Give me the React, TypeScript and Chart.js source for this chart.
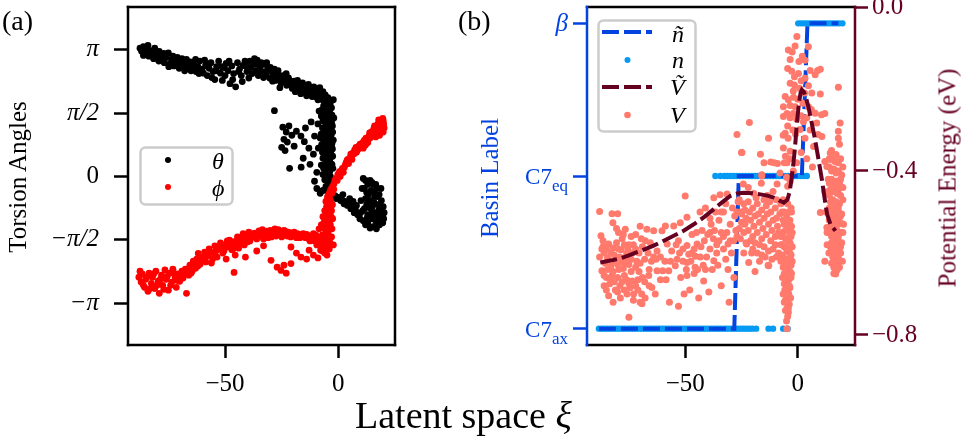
import { useEffect, useRef } from "react";
import { Chart, registerables } from "chart.js";

Chart.register(...registerables);

const SERIF = '"Liberation Serif", "Times New Roman", serif';
Chart.defaults.font.family = SERIF;

const BLUE = "#0343DF";
const AZURE = "#069AF3";
const MAROON = "#650021";
const SALMON = "#FF796C";

// ---- panel (a): torsion angles against the latent coordinate xi ----
const thetaPoints: [number, number][] = [
  [-87.5, 3.18], [-86.8, 3.1], [-86, 3.22], [-85.2, 3.05], [-84.5, 3.15], [-83.6, 2.98], [-83, 3.12], [-82.2, 3.04],
  [-81.5, 2.92], [-80.8, 3.08], [-80, 2.96], [-79.2, 2.86], [-78.5, 3.0], [-77.6, 2.9], [-76.8, 2.82], [-76, 2.95],
  [-75, 3.06], [-74.2, 2.8], [-73.5, 2.9], [-72.6, 2.74], [-71.8, 2.86], [-71, 2.78], [-70.2, 2.68], [-69.4, 2.82],
  [-68.6, 2.74], [-67.8, 2.62], [-67, 2.78], [-66.1, 2.7], [-65.3, 2.84], [-64.5, 2.66], [-63.6, 2.76], [-62.8, 2.6],
  [-62, 2.72], [-61.1, 2.86], [-60.3, 2.66], [-59.5, 2.56], [-58.6, 2.74], [-57.8, 2.5], [-57, 2.68], [-56.2, 2.82],
  [-55.3, 2.6], [-54.5, 2.4], [-53.7, 2.72], [-52.8, 2.86], [-52, 2.56], [-51.2, 2.38], [-50.4, 2.7], [-49.5, 2.8],
  [-48.7, 2.62], [-47.8, 2.3], [-47, 2.74], [-46.2, 2.55], [-45.3, 2.22], [-44.5, 2.82], [-43.6, 2.66], [-42.8, 2.5],
  [-42, 2.75], [-41.2, 2.86], [-40.3, 2.6], [-39.5, 2.44], [-38.6, 2.7], [-37.8, 2.8], [-37, 2.92], [-36.2, 2.62],
  [-35.3, 2.5], [-34.5, 2.72], [-33.6, 2.6], [-32.8, 2.78], [-32, 2.52], [-31.2, 2.66], [-30.3, 2.44], [-29.5, 2.6],
  [-28.6, 2.5], [-27.8, 2.38], [-27, 2.56], [-26.2, 2.44], [-25.3, 2.32], [-24.5, 2.5], [-23.6, 2.36], [-22.8, 2.26],
  [-22, 2.44], [-21.2, 2.3], [-20.3, 2.18], [-19.5, 2.36], [-18.6, 2.24], [-17.8, 2.14], [-17, 2.3], [-16.2, 2.16],
  [-15.3, 2.08], [-14.5, 2.24], [-13.6, 2.12], [-12.8, 2.04], [-12, 2.2], [-11.2, 2.1], [-10.3, 1.98], [-9.5, 2.14],
  [-8.6, 2.06], [-7.8, 1.96],
  [-86, 3.0], [-84, 3.25], [-81, 3.18], [-79, 3.1], [-77, 3.05], [-74.8, 2.72], [-73, 2.98], [-71, 2.95], [-69, 2.92],
  [-67, 2.9], [-65, 2.62], [-63, 2.9], [-61.5, 2.55], [-59, 2.88], [-57.5, 2.78], [-55.8, 2.45], [-54, 2.62],
  [-51.5, 2.72], [-50, 2.5], [-48.2, 2.86], [-46.6, 2.4], [-44, 2.6], [-42.4, 2.35], [-40.8, 2.74], [-39, 2.86],
  [-38, 2.55], [-36.6, 2.78], [-35.8, 2.88], [-34, 2.82], [-33, 2.45], [-31.6, 2.82], [-30, 2.7], [-29, 2.36],
  [-28.2, 2.66], [-26.6, 2.62], [-25.8, 2.2], [-24, 2.42], [-23, 2.55], [-21.6, 2.38], [-20, 2.3], [-19, 2.1],
  [-18, 2.38], [-16.6, 2.05], [-15.8, 2.32], [-14, 2.0], [-13.2, 2.28], [-11.6, 1.98], [-10.8, 2.22], [-9, 1.9],
  [-8.2, 2.2], [-6.8, 2.1], [-5.8, 2.02], [-4.6, 1.95],
  [-7, 1.9], [-5.5, 1.95], [-4, 1.85], [-3, 1.7], [-6.5, 1.75], [-5, 1.62], [-3.5, 1.55], [-7.5, 1.5], [-6, 1.45],
  [-4.5, 1.4], [-3, 1.35], [-5.5, 1.28], [-7, 1.2], [-4, 1.18], [-2.5, 1.1], [-6, 1.05], [-5, 0.98], [-3.5, 0.92],
  [-8, 0.95], [-6.5, 0.85], [-4.5, 0.8], [-3, 0.74], [-5.5, 0.68], [-7, 0.6], [-4, 0.56], [-2.5, 0.5], [-6, 0.45],
  [-5, 0.38], [-3.5, 0.32], [-7.5, 0.28], [-6.5, 0.2], [-4.5, 0.15], [-5.5, 0.05], [-3.5, 0.0], [-6, -0.08],
  [-4.5, -0.15], [-5.5, -0.25], [-3.8, -0.3], [-8.5, 1.62], [-9, 1.3], [-8.8, 0.7], [-9.5, 0.1], [-10.5, -0.12],
  [-9.5, -0.3], [-8, -0.42], [-6.8, -0.35], [-2.2, 1.9], [-2, 1.45], [-2.2, 0.9], [-2.4, 0.2],
  [-6.2, 1.88], [-4.8, 1.78], [-3.6, 1.8], [-7.2, 1.65], [-5.8, 1.58], [-4.2, 1.5], [-2.8, 1.52], [-6.8, 1.38],
  [-5.2, 1.35], [-3.8, 1.28], [-2.6, 1.25], [-7.6, 1.05], [-6.2, 1.15], [-4.8, 1.1], [-3.2, 1.02], [-5.8, 0.9],
  [-4.2, 0.88], [-2.8, 0.82], [-7.4, 0.78], [-6.2, 0.7], [-4.8, 0.62], [-3.4, 0.6], [-2.6, 0.68], [-5.2, 0.52],
  [-6.8, 0.45], [-3.8, 0.42], [-4.8, 0.28], [-6, 0.3], [-2.8, 0.3], [-5.2, 0.18], [-3.8, 0.12], [-6.8, 0.05],
  [-4.5, -0.05], [-2.8, -0.12], [-5, -0.35], [-3.2, -0.22],
  [-28.2, 1.63], [-21.5, 0.2], [-16.4, 0.23], [-24.5, 1.22], [-23, 1.1], [-21.8, 1.25], [-20.5, 1.02], [-24, 0.92],
  [-22.5, 0.85], [-19.5, 0.75], [-25, 0.72], [-23.5, 0.64], [-18.5, 1.12], [-16.5, 1.0], [-15, 0.86], [-14.5, 1.2],
  [-13, 0.7], [-12, 1.35], [-11, 0.55], [-15.5, 0.45], [-12.5, 0.3], [-10.5, 1.0],
  [-3, -0.4], [-1.5, -0.48], [0, -0.52], [1.5, -0.58], [3, -0.62], [4.5, -0.66], [6, -0.74], [7.5, -0.82], [2, -0.45],
  [5, -0.55], [8.5, -0.95], [9.5, -1.05], [10, -0.6], [10.5, -0.3], [11, -0.05], [12, -0.1], [12.5, -0.4], [11.5, -0.8],
  [11, -1.1], [12, -1.2], [13, -0.2], [13.5, -0.6], [13, -0.95], [14, -1.28], [14.5, -0.35], [15, -0.75], [15, -1.05],
  [16, -0.5], [16, -0.9], [16.5, -1.2], [17, -0.3], [17.5, -0.7], [17.5, -1.0], [18, -0.45], [18.5, -0.85],
  [18.5, -1.15], [19, -0.6], [19.5, -0.95], [19.8, -0.75], [20, -1.05], [14, -0.1], [15.5, -0.2], [16.8, -1.3],
  [13.8, -0.78], [12.8, -1.02],
  [11.5, -0.3], [12.5, -0.7], [13.2, -0.45], [14.2, -0.6], [14.8, -0.9], [15.6, -0.4], [15.8, -0.65], [16.4, -1.05],
  [17.2, -0.5], [17.8, -0.85], [18.2, -1.2], [18.8, -0.3], [19.2, -0.75], [19.6, -1.15], [20.2, -0.9], [13, -1.15],
  [12, -0.55], [10.8, -0.85], [9.8, -0.9], [15, -1.25], [17, -1.15], [19, -1.05], [16.5, -0.2], [14.8, -0.15],
  [-1, -0.55], [1, -0.6], [2.5, -0.68], [4, -0.72], [5.5, -0.8], [7, -0.9], [8, -0.72], [6.5, -0.62],
];

const phiPoints: [number, number][] = [
  [-88, -2.5], [-87, -2.62], [-86.5, -2.42], [-85.5, -2.75], [-85, -2.55], [-84, -2.85], [-83.5, -2.4], [-82.5, -2.65],
  [-82, -2.5], [-81, -2.78], [-80.5, -2.35], [-79.5, -2.6], [-79, -2.9], [-78, -2.45], [-77.5, -2.7], [-76.5, -2.32],
  [-76, -2.55], [-75, -2.82], [-74.5, -2.4], [-73.5, -2.62], [-73, -2.3], [-72, -2.5], [-71.5, -2.75], [-70.5, -2.42],
  [-70, -2.6], [-69, -2.35], [-68.5, -2.52], [-67.5, -2.3], [-67, -2.9], [-66, -2.45], [-65.5, -2.2], [-64.5, -2.35],
  [-64, -2.1], [-63, -2.28], [-62.5, -2.05], [-61.8, -1.91], [-61, -2.18], [-60, -2.0], [-59, -1.88], [-58.5, -2.12],
  [-57.5, -1.95], [-57, -1.8], [-56, -2.15], [-55, -1.9], [-54.5, -1.72], [-53.5, -2.0], [-52.5, -1.8], [-52, -1.65],
  [-51, -1.9], [-50, -1.7], [-49.5, -2.05], [-48.7, -1.75], [-48, -1.58], [-47, -1.82], [-46, -1.62], [-45.5, -1.95],
  [-44.5, -1.5], [-44, -1.78], [-43, -1.55], [-42, -1.42], [-41.5, -1.7], [-40.5, -1.5], [-39.5, -1.38], [-39, -1.6],
  [-38, -1.45], [-37, -1.41], [-36, -1.55], [-35, -1.35], [-34.5, -1.48], [-33.5, -1.32], [-32.5, -1.45], [-31.5, -1.36],
  [-31, -1.52], [-30, -1.34], [-29, -1.44], [-28, -1.3], [-27, -1.42], [-26, -1.36], [-25, -1.5], [-24, -1.34],
  [-23, -1.42], [-22, -1.38], [-21, -1.5], [-20, -1.4], [-19, -1.46], [-18, -1.42], [-17, -1.52], [-16, -1.45],
  [-15, -1.5], [-14, -1.44], [-13, -1.55], [-12, -1.48], [-11, -1.42], [-10.5, -1.6], [-46, -2.38], [-41, -2.0],
  [-36, -1.85], [-33, -1.72],
  [-87.5, -2.35], [-86, -2.7], [-84.5, -2.5], [-83, -2.78], [-81.5, -2.42], [-80, -2.7], [-78.5, -2.55], [-77, -2.8],
  [-75.5, -2.48], [-74, -2.7], [-72.5, -2.4], [-71, -2.58], [-69.5, -2.5], [-68, -2.42], [-66.5, -2.3], [-65, -2.4],
  [-63.5, -2.18], [-62, -2.22], [-60.5, -2.1], [-59.5, -2.05], [-58, -1.98], [-56.5, -1.88], [-55.5, -2.05],
  [-54, -1.85], [-53, -1.75], [-51.5, -1.78], [-50.5, -1.85], [-49, -1.6], [-47.5, -1.7], [-46.5, -1.8], [-45, -1.7],
  [-43.5, -1.65], [-42.5, -1.58], [-41, -1.45], [-40, -1.62], [-38.5, -1.52], [-37.5, -1.5], [-36.5, -1.42],
  [-35.5, -1.48], [-34, -1.38], [-33, -1.55], [-32, -1.38], [-30.5, -1.42], [-29.5, -1.5], [-28.5, -1.38],
  [-27.5, -1.48], [-26.5, -1.32], [-25.5, -1.42], [-24.5, -1.46], [-23.5, -1.36], [-22.5, -1.48], [-21.5, -1.42],
  [-20.5, -1.48], [-19.5, -1.38], [-18.5, -1.52], [-17.5, -1.44], [-16.5, -1.5], [-15.5, -1.42], [-14.5, -1.52],
  [-13.5, -1.46], [-12.5, -1.6], [-11.5, -1.5], [-10, -1.45], [-9.5, -1.55],
  [-29.7, -2.08], [-25.3, -2.33], [-24, -2.2], [-20.9, -2.16], [-20.9, -1.75], [-18.5, -1.9], [-16.5, -2.0], [-14, -2.05],
  [-12.9, -1.83], [-11, -1.95], [-9, -2.02], [-7.8, -1.83], [-6, -1.9], [-23, -2.4], [-27, -2.25],
  [-9, -1.5], [-8, -1.7], [-7, -1.45], [-6.5, -1.65], [-6, -1.3], [-5.5, -1.55], [-5, -1.1], [-4.5, -1.4], [-4, -0.95],
  [-3.5, -1.2], [-7.5, -1.2], [-6.8, -1.0], [-6, -0.85], [-5.2, -0.75], [-4.2, -0.65], [-3, -0.85], [-2.5, -1.05],
  [-3, -1.5], [-2.2, -1.7], [-4, -1.8], [-5, -1.95], [-7, -1.85], [-8.5, -1.3], [-9.5, -1.7], [-3.8, -0.55],
  [-2.8, -0.42], [-5.5, -0.62],
  [-8, -1.55], [-7.2, -1.6], [-6.2, -1.45], [-5.8, -1.2], [-5, -1.3], [-4.6, -1.0], [-4.2, -1.15], [-3.6, -0.8],
  [-3.2, -1.0], [-2.8, -1.3], [-4.8, -0.85], [-5.6, -1.0], [-6.4, -1.15], [-3.4, -0.62], [-2.6, -0.7], [-4.4, -1.6],
  [-3.6, -1.65], [-6.6, -1.75], [-5.4, -1.75],
  [-4.8, -0.51], [-3.5, -0.35], [-2.5, -0.25], [-1.9, -0.18], [-1, -0.05], [0, 0.02], [1, 0.07], [1.8, 0.2], [2.6, 0.22],
  [3.5, 0.35], [3.9, 0.4], [5, 0.45], [5.5, 0.55], [6.5, 0.58], [7.2, 0.66], [8.3, 0.64], [9, 0.75], [9.6, 0.8],
  [10.5, 0.82], [11.5, 0.9], [12.7, 0.89], [13.5, 1.0], [14, 0.95], [14.5, 1.1], [15.2, 1.05], [15.8, 1.2], [16.2, 1.12],
  [17.1, 1.22], [17.5, 1.3], [18, 1.18], [18.6, 1.34], [19, 1.4], [19.5, 1.25], [19.8, 1.38], [18.8, 1.1], [17, 1.05],
  [20, 1.3], [16.5, 0.98], [12, 0.78], [8, 0.6], [4.5, 0.32], [0.5, 0.12], [-0.5, -0.1],
  [-4, -0.42], [-3, -0.3], [-2, -0.32], [-1.5, -0.1], [-0.2, 0.05], [0.8, 0.0], [1.4, 0.15], [2.2, 0.1], [3, 0.28],
  [4.2, 0.42], [5.8, 0.5], [6, 0.42], [7, 0.56], [7.8, 0.72], [8.8, 0.68], [10, 0.74], [11, 0.85], [11, 0.7],
  [12.2, 0.95], [13, 0.84], [13.8, 1.08], [14.8, 1.0], [15.5, 1.15], [16, 1.25], [16.8, 1.18], [17.8, 1.4],
  [18.4, 1.25], [19.2, 1.32], [19.6, 1.44], [20.2, 1.2], [18.2, 1.02], [19.8, 1.1],
];

const torsionTicks = [-Math.PI, -Math.PI / 2, 0, Math.PI / 2, Math.PI];
const torsionTickLabels = ["−π", "−π/2", "0", "π/2", "π"];
const xiTicks = [-50, 0];

// ---- panel (b): basin label and potential energy ----
const basinTicks = [0, 1, 2];
const basinTickLabels: [string, string][] = [["C7", "ax"], ["C7", "eq"], ["β", ""]];
const energyTicks = [-0.8, -0.4, 0];

// n, basin of each sample, grouped by level
const nAxX = [
  -88.3, -87, -85.8, -84.5, -83.2, -82, -80.6, -79.3, -78, -76.8, -75.4, -74.1, -72.9, -71.6, -70.2, -69, -67.7, -66.4,
  -65.1, -63.8, -62.5, -61.3, -60, -58.7, -57.4, -56.1, -54.9, -53.6, -52.3, -51, -49.7, -48.5, -47.2, -45.9, -44.6,
  -43.3, -42, -40.8, -39.5, -38.2, -36.9, -35.6, -34.3, -33, -31.8, -30.5, -29.2, -27.9, -26.6, -25.3, -24, -22.8,
  -21.5, -20.2, -18.5, -13, -11, -6.5, -4.5,
];
const nEqX = [
  -36.6, -34.4, -32.5, -31.2, -29.8, -28.5, -27.1, -25.8, -24.4, -23.1, -21.7, -20.4, -19, -17.7, -16.3, -15, -13.6,
  -12.3, -10.9, -9.6, -8.2, -6.9, -5.5, -4.2, -2.8, -1.5, -0.1, 1.2, 2.6, 4,
];
const nBetaX = [0.2, 1.5, 2.8, 4.1, 5.4, 6.7, 8, 9.3, 10.6, 11.9, 13.2, 14.5, 15.8, 17.1, 18.4, 19.8];

// smoothed basin label (n tilde)
const nTildePoints: [number, number][] = [
  [-88.3, 0], [-28.2, 0], [-26.2, 1], [1.8, 1], [4.3, 2], [18, 2],
];

// V, potential energy of each sample (eV)
const energyPoints: [number, number][] = [
  [-88, -0.499], [-87.4, -0.558], [-82.5, -0.504], [-80, -0.504], [-82.1, -0.526], [-79.6, -0.55], [-76.6, -0.542],
  [-84, -0.578], [-82, -0.588], [-80.5, -0.575], [-78.5, -0.592], [-77, -0.58], [-75.5, -0.59], [-86, -0.6],
  [-84.5, -0.612], [-81.5, -0.605], [-79, -0.61], [-76, -0.602], [-74, -0.615], [-85.5, -0.625], [-83, -0.632],
  [-80, -0.628], [-77.5, -0.638], [-75, -0.628], [-87, -0.643], [-85, -0.66], [-82.5, -0.655], [-80, -0.66],
  [-77, -0.655], [-83.5, -0.675], [-79, -0.68], [-76, -0.665], [-73.5, -0.668], [-71, -0.665], [-69, -0.66],
  [-72.9, -0.7], [-84, -0.704], [-78.8, -0.71], [-75.8, -0.7], [-69.3, -0.7], [-67.8, -0.71], [-69.2, -0.724],
  [-75, -0.757], [-70, -0.535], [-67, -0.542], [-67.7, -0.57], [-64, -0.546], [-60.3, -0.546], [-58.8, -0.534],
  [-62.5, -0.595], [-63, -0.615], [-58, -0.578], [-62.5, -0.643], [-60, -0.643], [-57.3, -0.643], [-66.2, -0.655],
  [-64.8, -0.684], [-63.3, -0.7], [-86.5, -0.585], [-88, -0.61], [-73, -0.58], [-71.5, -0.62], [-70.5, -0.645],
  [-74.5, -0.685], [-81, -0.69], [-86, -0.68], [-72, -0.555], [-78, -0.565], [-70, -0.72],
  [-86.5, -0.57], [-85, -0.59], [-83, -0.6], [-81, -0.62], [-79.5, -0.59], [-78, -0.62], [-76.5, -0.615], [-75, -0.58],
  [-73.5, -0.6], [-72, -0.59], [-70.5, -0.6], [-69, -0.585], [-84.5, -0.64], [-82, -0.645], [-79.5, -0.64],
  [-77, -0.625], [-74, -0.645], [-72, -0.635], [-70, -0.625], [-68, -0.615], [-66.5, -0.6], [-65, -0.62],
  [-86, -0.655], [-83, -0.665], [-81.5, -0.67], [-78, -0.67], [-75, -0.675], [-72, -0.68], [-68, -0.67], [-66, -0.64],
  [-85, -0.69], [-80, -0.695], [-77, -0.69], [-71, -0.69], [-66, -0.68], [-73, -0.715], [-82, -0.72], [-87, -0.59],
  [-80.5, -0.54], [-77.5, -0.555], [-74, -0.56], [-69.5, -0.565], [-65.5, -0.575], [-61, -0.61], [-59, -0.62],
  [-61, -0.665], [-58.5, -0.665], [-56.5, -0.62], [-64, -0.61],
  [-55.1, -0.534], [-52.2, -0.526], [-49.2, -0.513], [-50, -0.461], [-53.6, -0.615], [-54.4, -0.631], [-49.2, -0.582],
  [-48.4, -0.603], [-45.5, -0.608], [-43.3, -0.61], [-49.2, -0.623], [-45.6, -0.635], [-41, -0.64], [-41.8, -0.668],
  [-44.7, -0.578], [-43.4, -0.5], [-41, -0.49], [-37.3, -0.465], [-34.5, -0.458], [-31.4, -0.456], [-40, -0.555],
  [-37.5, -0.565], [-35, -0.57], [-33, -0.56], [-31, -0.578], [-37.3, -0.619], [-32, -0.615], [-29.5, -0.6],
  [-28.4, -0.66], [-53, -0.57], [-51, -0.59], [-47, -0.555], [-46, -0.65], [-52, -0.66], [-56, -0.595], [-39, -0.59],
  [-36, -0.6], [-30, -0.53], [-28, -0.51], [-35, -0.52], [-33, -0.5], [-38.5, -0.53], [-42.5, -0.545], [-48, -0.69],
  [-50.5, -0.7], [-44, -0.71], [-39.5, -0.695], [-34, -0.68], [-30.5, -0.72], [-57, -0.72], [-53, -0.73],
  [-26.5, -0.475], [-25, -0.5], [-27.5, -0.545], [-49.2, -0.655],
  [-54, -0.58], [-52.5, -0.6], [-51, -0.62], [-49.5, -0.64], [-47.5, -0.62], [-46, -0.59], [-44.5, -0.64],
  [-43, -0.585], [-41.5, -0.57], [-40.5, -0.61], [-39, -0.55], [-37, -0.545], [-36, -0.58], [-34, -0.55],
  [-33, -0.59], [-31.5, -0.55], [-30, -0.57], [-28.5, -0.57], [-27, -0.56], [-27, -0.5], [-29, -0.49], [-32, -0.48],
  [-34, -0.5], [-36.5, -0.5], [-39, -0.515], [-45, -0.55], [-47, -0.6], [-42, -0.63], [-38, -0.64], [-35.5, -0.63],
  [-31, -0.64],
  [-24.8, -0.355], [-16.6, -0.359], [-15, -0.38], [-12, -0.378], [-9, -0.382], [-6, -0.38], [-3.5, -0.37],
  [-24.2, -0.432], [-16, -0.412], [-9.2, -0.432], [-26, -0.47], [-24, -0.48], [-22, -0.475], [-20, -0.49], [-18, -0.48],
  [-16, -0.495], [-14, -0.485], [-12, -0.5], [-10, -0.49], [-8, -0.505], [-25, -0.505], [-23, -0.515], [-21, -0.52],
  [-19, -0.51], [-17, -0.525], [-15, -0.515], [-13, -0.53], [-11, -0.52], [-9, -0.535], [-26, -0.54], [-24, -0.55],
  [-22, -0.545], [-20, -0.56], [-18, -0.55], [-16, -0.565], [-14, -0.555], [-12, -0.57], [-10, -0.56], [-22.7, -0.578],
  [-20, -0.59], [-18, -0.6], [-16, -0.605], [-13.2, -0.63], [-10, -0.58], [-9.5, -0.61], [-21.8, -0.623],
  [-12.9, -0.631], [-19, -0.645], [-24, -0.6], [-7, -0.55], [-7.5, -0.58], [-11, -0.45], [-13.5, -0.46],
  [-19.5, -0.455], [-22, -0.44],
  [-25, -0.525], [-23.5, -0.495], [-21.5, -0.5], [-19.5, -0.535], [-17.5, -0.505], [-15.5, -0.54], [-13.5, -0.505],
  [-11.5, -0.545], [-9.5, -0.515], [-8.5, -0.55], [-25.5, -0.565], [-23, -0.575], [-21, -0.57], [-19, -0.575],
  [-17, -0.58], [-15, -0.585], [-13, -0.595], [-11, -0.59], [-8.5, -0.6], [-17, -0.62], [-14.5, -0.61],
  [-11.5, -0.615], [-20.5, -0.6], [-23.5, -0.53], [-18.5, -0.465], [-15, -0.47], [-12.5, -0.475], [-9.5, -0.47],
  [-6.5, -0.47], [-4.5, -0.48], [-3, -0.49], [-7, -0.5], [-5, -0.51], [-3.5, -0.52], [-6, -0.53], [-4, -0.54],
  [-2.5, -0.55], [-7.5, -0.56], [-5.5, -0.565], [-3.5, -0.575], [-6, -0.585], [-4.5, -0.595], [-3, -0.605],
  [-5.5, -0.615], [-4, -0.625], [-6.5, -0.635], [-3.5, -0.645], [-5, -0.655], [-4, -0.665], [-6, -0.675],
  [-3.5, -0.685], [-5, -0.695], [-4.5, -0.705], [-5.5, -0.715], [-3.8, -0.725], [-4.8, -0.735], [-4.2, -0.745],
  [-5, -0.766], [-4.8, -0.785], [-2.8, -0.5], [-2.5, -0.62], [-7, -0.61], [-6.8, -0.66], [-3, -0.56], [-6, -0.72],
  [-7.5, -0.48], [-5.5, -0.475], [-3.8, -0.5], [-6.5, -0.52], [-4.5, -0.525], [-2.8, -0.535], [-5.5, -0.545],
  [-3.5, -0.555], [-6.5, -0.56], [-4.5, -0.57], [-2.5, -0.585], [-7, -0.58], [-5, -0.59], [-3.5, -0.6],
  [-6.5, -0.605], [-4.5, -0.615], [-3, -0.63], [-5.5, -0.635], [-4, -0.645], [-6, -0.65], [-3, -0.66], [-5, -0.67],
  [-4.5, -0.68], [-5.8, -0.69], [-4, -0.7], [-3.2, -0.71], [-5, -0.72], [-4.2, -0.735], [-5.5, -0.74], [-4.5, -0.755],
  [-3.8, -0.68], [-6.5, -0.7], [-5.2, -0.625], [-3.2, -0.58], [-7.5, -0.62], [-2.8, -0.65], [-6, -0.5],
  [-0.4, -0.072], [-4.2, -0.105], [-1.2, -0.095], [4.7, -0.097], [-3.4, -0.128], [0.5, -0.133], [3.2, -0.13],
  [-2.7, -0.157], [-1.5, -0.17], [0.3, -0.162], [5.5, -0.155], [8.8, -0.155], [10, -0.152], [7.7, -0.165],
  [-3.4, -0.186], [-1.5, -0.19], [0.8, -0.198], [3.2, -0.174], [4.7, -0.192], [6.2, -0.21], [18, -0.196], [10, -0.212],
  [-5.6, -0.218], [-4.2, -0.226], [-1.9, -0.22], [-6.4, -0.243], [-3.4, -0.24], [-1.2, -0.243], [2.3, -0.235],
  [4.7, -0.243], [-6.4, -0.267], [-3.4, -0.27], [-0.5, -0.274], [7.7, -0.259], [10.5, -0.263], [12, -0.26],
  [8.4, -0.283], [18.8, -0.283], [18, -0.303], [-21.5, -0.282], [-5.6, -0.308], [-6.5, -0.313], [-4.3, -0.32],
  [1, -0.299], [3.2, -0.32], [9, -0.311], [10.7, -0.316], [-13, -0.32], [-27, -0.311], [18, -0.32], [18.5, -0.335],
  [-6.4, -0.344], [-3.4, -0.352], [-5.5, -0.364], [-25, -0.355], [14.4, -0.356], [12, -0.377], [16.5, -0.377],
  [14.5, -0.372], [-7.9, -0.405], [-5, -0.415], [-3.4, -0.425], [-4.5, -0.437], [-16, -0.409], [-16.2, -0.43],
  [12.9, -0.389], [-10.5, -0.38], [-0.5, -0.38], [1.5, -0.355], [2.5, -0.28], [-2.2, -0.3],
  [-2.5, -0.11], [2, -0.12], [-4.5, -0.15], [1.5, -0.18], [-2, -0.205], [0, -0.225], [3, -0.21], [-4.8, -0.26],
  [-2, -0.26], [1.5, -0.265], [4, -0.27], [6, -0.25], [-4.5, -0.29], [-1, -0.31], [5.5, -0.3], [7, -0.34],
  [-4.8, -0.38], [-2, -0.4], [4, -0.37], [6.5, -0.39],
  [15, -0.35], [17, -0.36], [19, -0.37], [14, -0.39], [16, -0.395], [18, -0.4], [19.5, -0.41], [15, -0.42],
  [17, -0.425], [18.5, -0.43], [14.5, -0.445], [16, -0.45], [17.5, -0.455], [19, -0.46], [15.5, -0.47], [17, -0.475],
  [18.5, -0.48], [10, -0.501], [14, -0.49], [16, -0.495], [18, -0.5], [19.5, -0.505], [15, -0.515], [17, -0.52],
  [18.8, -0.525], [12.9, -0.538], [14.5, -0.535], [16, -0.54], [17.5, -0.545], [19, -0.55], [15, -0.56],
  [16.5, -0.565], [18, -0.57], [19.5, -0.575], [14.5, -0.585], [16, -0.59], [17.5, -0.595], [19, -0.6], [15.5, -0.61],
  [17, -0.615], [18.5, -0.62], [16, -0.635], [17.5, -0.64], [16.8, -0.651], [14, -0.46], [13.5, -0.42], [20, -0.44],
  [20.3, -0.53], [13.8, -0.6], [19.8, -0.62],
  [14, -0.37], [16, -0.365], [18, -0.38], [20, -0.39], [15, -0.4], [17, -0.405], [19, -0.42], [14, -0.43],
  [16, -0.435], [18, -0.445], [20, -0.47], [14.5, -0.475], [16.5, -0.485], [18, -0.49], [15, -0.5], [17, -0.505],
  [19, -0.51], [14, -0.52], [16, -0.525], [18, -0.53], [20, -0.55], [14, -0.55], [16, -0.555], [18, -0.56],
  [15, -0.575], [17, -0.58], [19, -0.585], [15, -0.595], [16.5, -0.605], [18, -0.61], [15, -0.625], [17, -0.63],
  [18.5, -0.635], [17, -0.645], [16, -0.65], [12.5, -0.5], [12, -0.45], [13, -0.55], [13, -0.58], [12, -0.62],
];

// smoothed potential energy (V tilde)
const energyTildePoints: [number, number][] = [
  [-87.7, -0.623], [-82, -0.617], [-78.8, -0.613], [-75, -0.606], [-71.4, -0.598], [-67.5, -0.59], [-64, -0.582],
  [-59.5, -0.57], [-55.1, -0.558], [-50.5, -0.545], [-46.2, -0.53], [-41.5, -0.512], [-37.3, -0.493], [-33.5, -0.476],
  [-30, -0.461], [-27, -0.455], [-24, -0.453], [-20, -0.454], [-16.6, -0.457], [-13.5, -0.46], [-10.7, -0.465],
  [-8.2, -0.472], [-6.2, -0.477], [-4.6, -0.47], [-3.6, -0.45], [-2.8, -0.42], [-2, -0.385], [-1.2, -0.34],
  [-0.4, -0.283], [0.5, -0.235], [1.2, -0.21], [1.8, -0.202], [2.8, -0.208], [3.8, -0.225], [4.7, -0.243],
  [6.2, -0.283], [7.7, -0.324], [9.2, -0.372], [10.7, -0.421], [12, -0.47], [13, -0.505], [14.5, -0.53],
  [16.7, -0.546],
];

const toXY = (pts: [number, number][]) => pts.map(([x, y]) => ({ x, y }));
const minus = (v: number) => (v < 0 ? "−" + String(Math.abs(v)) : String(v));

function framePlugin(colors: { top: string; right: string; bottom: string; left: string }) {
  return {
    id: "frame",
    afterDraw(chart: Chart) {
      const { ctx, chartArea: a } = chart;
      ctx.save();
      ctx.lineWidth = 2.5;
      ctx.lineCap = "square";
      const seg = (c: string, x1: number, y1: number, x2: number, y2: number) => {
        ctx.strokeStyle = c;
        ctx.beginPath();
        ctx.moveTo(x1, y1);
        ctx.lineTo(x2, y2);
        ctx.stroke();
      };
      seg(colors.top, a.left, a.top, a.right, a.top);
      seg(colors.bottom, a.left, a.bottom, a.right, a.bottom);
      seg(colors.left, a.left, a.top, a.left, a.bottom);
      seg(colors.right, a.right, a.top, a.right, a.bottom);
      ctx.restore();
    },
  };
}

function legendBox(ctx: CanvasRenderingContext2D, x: number, y: number, w: number, h: number) {
  ctx.beginPath();
  ctx.roundRect(x, y, w, h, 5);
  ctx.fillStyle = "rgba(255,255,255,0.8)";
  ctx.fill();
  ctx.strokeStyle = "#cccccc";
  ctx.lineWidth = 2.5;
  ctx.stroke();
}

function dot(ctx: CanvasRenderingContext2D, x: number, y: number, r: number, c: string) {
  ctx.beginPath();
  ctx.arc(x, y, r, 0, Math.PI * 2);
  ctx.fillStyle = c;
  ctx.fill();
}

const torsionLegend = {
  id: "torsionLegend",
  afterDraw(chart: Chart) {
    const ctx = chart.ctx;
    ctx.save();
    legendBox(ctx, 140.5, 147.5, 92, 57);
    dot(ctx, 168, 160, 3, "#000000");
    dot(ctx, 168, 187, 3, "#ff0000");
    ctx.fillStyle = "#000";
    ctx.font = `italic 24px ${SERIF}`;
    ctx.textAlign = "left";
    ctx.textBaseline = "alphabetic";
    ctx.fillText("θ", 212, 169);
    ctx.fillText("ϕ", 212, 196);
    ctx.restore();
  },
};

const basinLegend = {
  id: "basinLegend",
  afterDraw(chart: Chart) {
    const ctx = chart.ctx;
    ctx.save();
    legendBox(ctx, 143.5, 20.5, 97, 111);
    const line = (y: number, c: string) => {
      ctx.beginPath();
      ctx.setLineDash([17, 5]);
      ctx.lineWidth = 4;
      ctx.strokeStyle = c;
      ctx.moveTo(147, y);
      ctx.lineTo(197, y);
      ctx.stroke();
      ctx.setLineDash([]);
    };
    line(32, BLUE);
    dot(ctx, 172.5, 60, 3, AZURE);
    line(87, MAROON);
    dot(ctx, 172.5, 115, 3.3, SALMON);
    ctx.fillStyle = "#000";
    ctx.font = `italic 24px ${SERIF}`;
    ctx.textAlign = "left";
    ctx.textBaseline = "alphabetic";
    ctx.fillText("ñ", 217, 42);
    ctx.fillText("n", 217, 68);
    ctx.fillText("Ṽ", 215, 95);
    ctx.fillText("V", 215, 123);
    ctx.restore();
  },
};

const basinTickText = {
  id: "basinTickText",
  afterDraw(chart: Chart) {
    const s = chart.scales.y;
    const ctx = chart.ctx;
    ctx.save();
    ctx.fillStyle = BLUE;
    ctx.textAlign = "left";
    ctx.textBaseline = "alphabetic";
    const xr = s.right - 14 - 5;
    basinTicks.forEach((v, i) => {
      const y = s.getPixelForValue(v);
      const [main, sub] = basinTickLabels[i];
      const mainFont = sub ? `23px ${SERIF}` : `italic 25px ${SERIF}`;
      const subFont = `17px ${SERIF}`;
      ctx.font = subFont;
      const subW = sub ? ctx.measureText(sub).width : 0;
      ctx.font = mainFont;
      const mainW = ctx.measureText(main).width;
      ctx.fillText(main, xr - subW - mainW, y + 8);
      if (sub) {
        ctx.font = subFont;
        ctx.fillText(sub, xr - subW, y + 15);
      }
    });
    ctx.restore();
  },
};

function TorsionPanel() {
  const chartRef = useRef<HTMLCanvasElement>(null);
  const chartInstance = useRef<Chart | null>(null);

  useEffect(() => {
    if (!chartRef.current) return;
    if (chartInstance.current) chartInstance.current.destroy();
    const ctx = chartRef.current.getContext("2d");
    if (!ctx) return;

    chartInstance.current = new Chart(ctx, {
      type: "scatter",
      data: {
        datasets: [
          {
            label: "ϕ",
            data: toXY(phiPoints),
            backgroundColor: "#ff0000",
            borderColor: "#ff0000",
            borderWidth: 0,
            pointRadius: 3.4,
            order: 0,
          },
          {
            label: "θ",
            data: toXY(thetaPoints),
            backgroundColor: "#000000",
            borderColor: "#000000",
            borderWidth: 0,
            pointRadius: 3.4,
            order: 1,
          },
        ],
      },
      options: {
        responsive: true,
        maintainAspectRatio: false,
        animation: false,
        events: [],
        layout: { autoPadding: false, padding: { top: 7, right: 60, bottom: 0, left: 0 } },
        plugins: { legend: { display: false }, tooltip: { enabled: false } },
        scales: {
          x: {
            type: "linear",
            min: -92.8,
            max: 25.0,
            afterBuildTicks: (s: any) => {
              s.ticks = xiTicks.map((v) => ({ value: v }));
            },
            afterFit: (s: any) => {
              s.height = 93;
              s.paddingLeft = 0;
              s.paddingRight = 0;
            },
            ticks: {
              callback: (v: any) => minus(Number(v)),
              font: { family: SERIF, size: 25 },
              color: "#000",
              padding: 11,
              maxRotation: 0,
            },
            grid: { drawOnChartArea: false, tickLength: 13, tickWidth: 2.5, tickColor: "#000" },
            border: { display: false },
          },
          y: {
            type: "linear",
            min: -4.18,
            max: 4.2,
            afterBuildTicks: (s: any) => {
              s.ticks = torsionTicks.map((v) => ({ value: v }));
            },
            afterFit: (s: any) => {
              s.width = 128;
              s.paddingTop = 0;
              s.paddingBottom = 0;
            },
            ticks: {
              callback: (_v: any, i: number) => torsionTickLabels[i],
              font: (c: any) => ({
                family: SERIF,
                size: 25,
                style: c.tick && c.tick.value !== 0 ? "italic" : "normal",
              }),
              color: "#000",
              padding: 15,
            },
            grid: { drawOnChartArea: false, tickLength: 14, tickWidth: 2.5, tickColor: "#000" },
            border: { display: false },
          },
        },
      },
      plugins: [
        framePlugin({ top: "#000", right: "#000", bottom: "#000", left: "#000" }),
        torsionLegend,
      ],
    } as any);

    return () => {
      if (chartInstance.current) {
        chartInstance.current.destroy();
        chartInstance.current = null;
      }
    };
  }, []);

  return <canvas ref={chartRef}></canvas>;
}

function EnergyPanel() {
  const chartRef = useRef<HTMLCanvasElement>(null);
  const chartInstance = useRef<Chart | null>(null);

  useEffect(() => {
    if (!chartRef.current) return;
    if (chartInstance.current) chartInstance.current.destroy();
    const ctx = chartRef.current.getContext("2d");
    if (!ctx) return;

    const basinData = [
      ...nAxX.map((x) => ({ x, y: 0 })),
      ...nEqX.map((x) => ({ x, y: 1 })),
      ...nBetaX.map((x) => ({ x, y: 2 })),
    ];

    chartInstance.current = new Chart(ctx, {
      type: "scatter",
      data: {
        datasets: [
          {
            label: "Ṽ",
            data: toXY(energyTildePoints),
            yAxisID: "y2",
            showLine: true,
            borderColor: MAROON,
            backgroundColor: MAROON,
            borderWidth: 4,
            borderDash: [17, 5],
            pointRadius: 0,
            order: 0,
          },
          {
            label: "V",
            data: toXY(energyPoints),
            yAxisID: "y2",
            backgroundColor: SALMON,
            borderColor: SALMON,
            borderWidth: 0,
            pointRadius: 3.5,
            order: 1,
          },
          {
            label: "ñ",
            data: toXY(nTildePoints),
            yAxisID: "y",
            showLine: true,
            borderColor: BLUE,
            backgroundColor: BLUE,
            borderWidth: 4,
            borderDash: [17, 5],
            pointRadius: 0,
            order: 2,
          },
          {
            label: "n",
            data: basinData,
            yAxisID: "y",
            backgroundColor: AZURE,
            borderColor: AZURE,
            borderWidth: 0,
            pointRadius: 3.2,
            order: 3,
          },
        ],
      },
      options: {
        responsive: true,
        maintainAspectRatio: false,
        animation: false,
        events: [],
        layout: { autoPadding: false, padding: { top: 7, right: 0, bottom: 0, left: 0 } },
        plugins: { legend: { display: false }, tooltip: { enabled: false } },
        scales: {
          x: {
            type: "linear",
            min: -93.6,
            max: 25.4,
            afterBuildTicks: (s: any) => {
              s.ticks = xiTicks.map((v) => ({ value: v }));
            },
            afterFit: (s: any) => {
              s.height = 93;
              s.paddingLeft = 0;
              s.paddingRight = 0;
            },
            ticks: {
              callback: (v: any) => minus(Number(v)),
              font: { family: SERIF, size: 25 },
              color: "#000",
              padding: 11,
              maxRotation: 0,
            },
            grid: { drawOnChartArea: false, tickLength: 13, tickWidth: 2.5, tickColor: "#000" },
            border: { display: false },
          },
          y: {
            type: "linear",
            position: "left",
            min: -0.107,
            max: 2.107,
            afterBuildTicks: (s: any) => {
              s.ticks = basinTicks.map((v) => ({ value: v }));
            },
            afterFit: (s: any) => {
              s.width = 132;
              s.paddingTop = 0;
              s.paddingBottom = 0;
            },
            ticks: { display: false },
            grid: { drawOnChartArea: false, tickLength: 14, tickWidth: 2.5, tickColor: BLUE },
            border: { display: false },
          },
          y2: {
            type: "linear",
            position: "right",
            min: -0.8244,
            max: 0,
            afterBuildTicks: (s: any) => {
              s.ticks = energyTicks.map((v) => ({ value: v }));
            },
            afterFit: (s: any) => {
              s.width = 106;
              s.paddingTop = 0;
              s.paddingBottom = 0;
            },
            ticks: {
              callback: (v: any) => minus(Number(v)).replace(/^(−?\d)$/, "$1.0"),
              font: { family: SERIF, size: 25 },
              color: MAROON,
              padding: 4,
            },
            grid: { drawOnChartArea: false, tickLength: 13, tickWidth: 2.5, tickColor: MAROON },
            border: { display: false },
          },
        },
      },
      plugins: [
        framePlugin({ top: "#000", right: MAROON, bottom: "#000", left: BLUE }),
        basinLegend,
        basinTickText,
      ],
    } as any);

    return () => {
      if (chartInstance.current) {
        chartInstance.current.destroy();
        chartInstance.current = null;
      }
    };
  }, []);

  return <canvas ref={chartRef}></canvas>;
}

const textBase: React.CSSProperties = {
  position: "absolute",
  fontFamily: SERIF,
  lineHeight: 1,
  whiteSpace: "nowrap",
  color: "#000",
};

function VerticalTitle({ x, y, size, color, children }: any) {
  return (
    <div
      style={{
        ...textBase,
        left: x,
        top: y,
        fontSize: size,
        color,
        transform: "translate(-50%, -50%) rotate(-90deg)",
      }}
    >
      {children}
    </div>
  );
}

export default function App() {
  return (
    <div
      style={{
        position: "fixed",
        left: 0,
        top: 0,
        width: 961,
        height: 438,
        background: "#ffffff",
        overflow: "hidden",
      }}
    >
      <div style={{ position: "absolute", left: 0, top: 0, width: 455, height: 438 }}>
        <TorsionPanel />
      </div>
      <div style={{ position: "absolute", left: 455, top: 0, width: 506, height: 438 }}>
        <EnergyPanel />
      </div>
      <div style={{ ...textBase, left: 2, top: 7, fontSize: 28 }}>(a)</div>
      <div style={{ ...textBase, left: 458, top: 7, fontSize: 28 }}>(b)</div>
      <VerticalTitle x={17} y={177} size={25} color="#000">
        Torsion Angles
      </VerticalTitle>
      <VerticalTitle x={489} y={178} size={25} color={BLUE}>
        Basin Label
      </VerticalTitle>
      <VerticalTitle x={947} y={178} size={25} color={MAROON}>
        Potential Energy (eV)
      </VerticalTitle>
      <div style={{ ...textBase, left: 355, top: 396, fontSize: 38 }}>
        Latent space <span style={{ fontStyle: "italic" }}>ξ</span>
      </div>
    </div>
  );
}
